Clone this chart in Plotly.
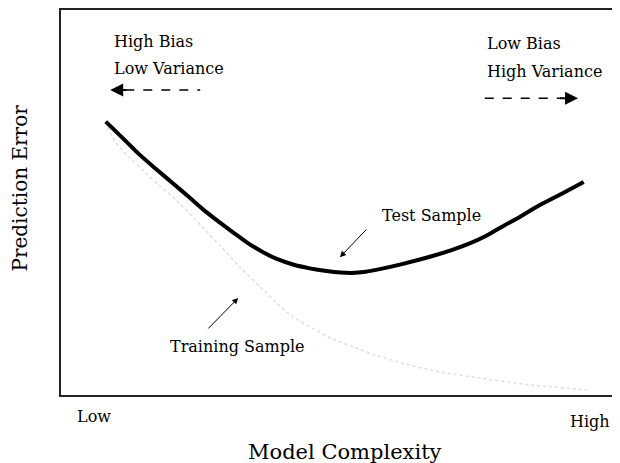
import plotly.graph_objects as go

# Curve values (x: model complexity 0-100, y: prediction error 0-100)
test_x = [8, 11, 14, 17, 20, 23, 26, 28.5, 31, 33.5, 36, 38.5, 41.5, 44.5, 47.5, 50, 52,
          54.5, 57, 61, 66, 70, 73, 76, 78.5, 82, 85.5, 89.5, 93.5]
test_y = [71, 66.8, 62.5, 58.7, 55, 51.3, 47.5, 44.7, 42, 39.4, 37.2, 35.4, 33.9, 32.9, 32.2,
          31.8, 31.7, 32.0, 32.7, 34.0, 35.9, 37.7, 39.3, 41.3, 43.4, 46.2, 49.2, 52.2, 55.3]

train_x = [8, 9.5, 12, 14.5, 17.5, 20.8, 24.9, 28.6, 32, 35.6, 38.5, 41.0, 45, 48.5, 52.2,
           55.8, 61.9, 67.8, 75.0, 83.9, 94.1]
train_y = [71, 66.2, 62, 58.6, 54.5, 50.4, 44.2, 38.6, 33.2, 28.1, 24, 20.8, 17.3, 14.6, 12.5,
           10.6, 7.9, 6.0, 4.4, 2.6, 1.3]

FONT = "DejaVu Serif"

fig = go.Figure()
fig.add_trace(go.Scatter(x=train_x, y=train_y, mode="lines",
                         line=dict(color="#dedede", width=1.5, dash="dot", shape="spline", smoothing=0.6),
                         name="Training Sample"))
fig.add_trace(go.Scatter(x=test_x, y=test_y, mode="lines",
                         line=dict(color="black", width=4, shape="spline", smoothing=0.6),
                         name="Test Sample"))

# corner labels
fig.add_annotation(x=9.1, y=91.7, text="High Bias", showarrow=False, xanchor="left")
fig.add_annotation(x=9.1, y=84.9, text="Low Variance", showarrow=False, xanchor="left")
fig.add_annotation(x=75.8, y=91.2, text="Low Bias", showarrow=False, xanchor="left")
fig.add_annotation(x=75.8, y=83.9, text="High Variance", showarrow=False, xanchor="left")

# dashed direction arrows
fig.add_shape(type="line", x0=11.5, y0=79.2, x1=24.9, y1=79.2,
              line=dict(color="black", width=1.5, dash="dash"))
fig.add_annotation(x=8.8, y=79.2, ax=12, ay=79.2, xref="x", yref="y", axref="x", ayref="y",
                   text="", showarrow=True, arrowhead=2, arrowsize=1.3, arrowwidth=2,
                   arrowcolor="black")
fig.add_shape(type="line", x0=75.8, y0=77.1, x1=89.5, y1=77.1,
              line=dict(color="black", width=1.5, dash="dash"))
fig.add_annotation(x=92.5, y=77.1, ax=89, ay=77.1, xref="x", yref="y", axref="x", ayref="y",
                   text="", showarrow=True, arrowhead=2, arrowsize=1.3, arrowwidth=2,
                   arrowcolor="black")

# curve labels with arrows
fig.add_annotation(x=66.2, y=46.5, text="Test Sample", showarrow=False)
fig.add_annotation(x=49.9, y=35.8, ax=54.9, ay=43.4, xref="x", yref="y", axref="x", ayref="y",
                   text="", showarrow=True, arrowhead=2, arrowsize=1.2, arrowwidth=1,
                   arrowcolor="black")
fig.add_annotation(x=31.5, y=12.5, text="Training Sample", showarrow=False)
fig.add_annotation(x=31.7, y=25.2, ax=26.1, ay=16.9, xref="x", yref="y", axref="x", ayref="y",
                   text="", showarrow=True, arrowhead=2, arrowsize=1.2, arrowwidth=1,
                   arrowcolor="black")

# axis end labels and titles
fig.add_annotation(x=0.06, y=-0.055, xref="paper", yref="paper", text="Low",
                   showarrow=False, xanchor="center", yanchor="middle", font=dict(size=16))
fig.add_annotation(x=1.0, y=-0.07, xref="paper", yref="paper", text="High",
                   showarrow=False, xanchor="right", yanchor="middle", font=dict(size=16))
fig.add_annotation(x=0.515, y=-0.148, xref="paper", yref="paper", text="Model Complexity",
                   showarrow=False, xanchor="center", yanchor="middle", font=dict(size=21))
fig.add_annotation(x=-0.075, y=0.538, xref="paper", yref="paper", text="Prediction Error",
                   showarrow=False, xanchor="center", yanchor="middle", textangle=-90,
                   font=dict(size=20))

# plot is cut at the right edge of the picture, like the scan
fig.update_xaxes(range=[0, 98.57], showgrid=False, zeroline=False,
                 showline=True, mirror=True, linecolor="#222", linewidth=1.5,
                 showticklabels=False, ticks="", automargin=False)
fig.update_yaxes(range=[0, 100], showgrid=False, zeroline=False,
                 showline=True, linecolor="#222", linewidth=1.5,
                 showticklabels=False, ticks="", automargin=False)

# page body adds ~8px offset, so figure is sized to the visible area
fig.update_layout(width=604, height=455,
                  margin=dict(l=53, r=0, t=2, b=68),
                  plot_bgcolor="white", paper_bgcolor="white",
                  showlegend=False,
                  font=dict(family=FONT, size=16, color="black"))

fig.write_html("out.html")
